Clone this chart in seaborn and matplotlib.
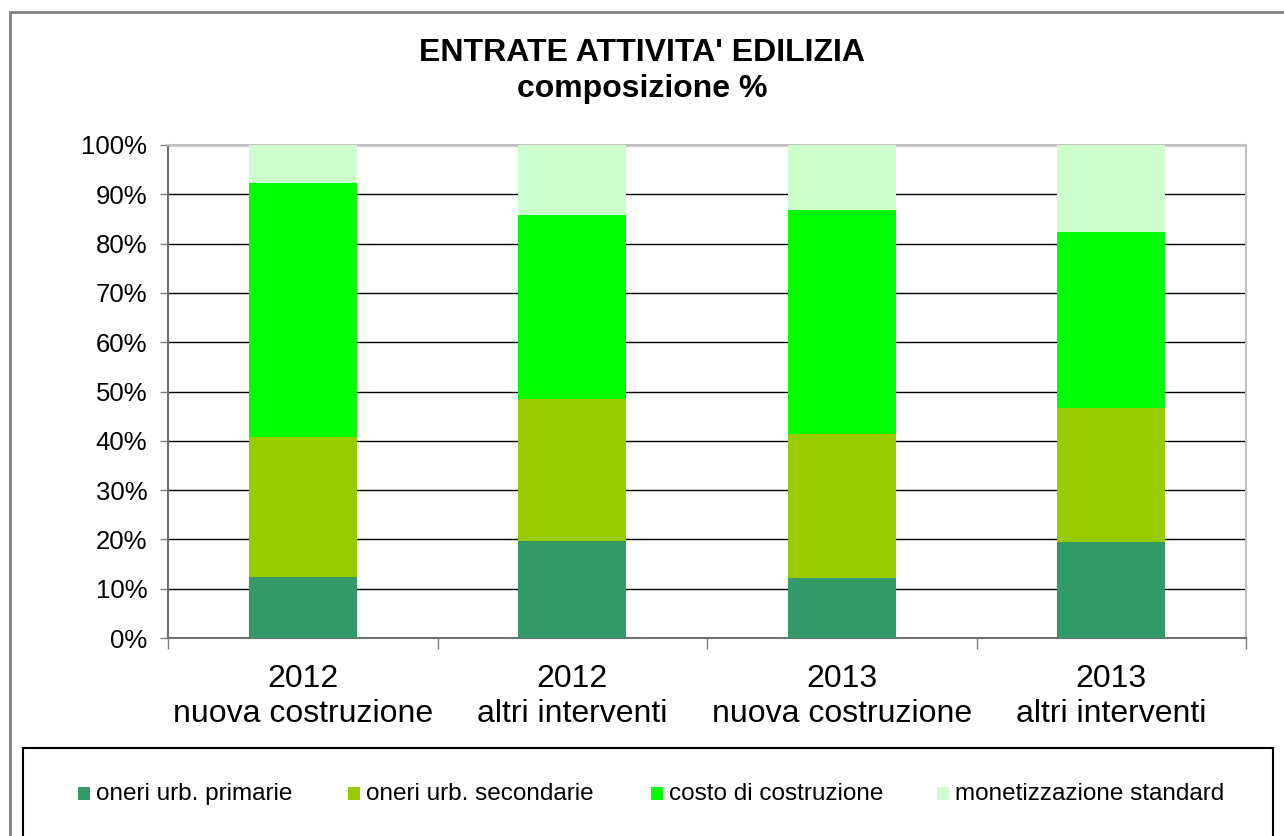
import numpy as np
import pandas as pd
import matplotlib
matplotlib.use("Agg")
import matplotlib.pyplot as plt
import seaborn as sns
from matplotlib.patches import Rectangle
from matplotlib.ticker import PercentFormatter

# data (% of total per column)
categories = ["2012\nnuova costruzione", "2012\naltri interventi",
              "2013\nnuova costruzione", "2013\naltri interventi"]
series = ["oneri urb. primarie", "oneri urb. secondarie",
          "costo di costruzione", "monetizzazione standard"]
primarie = [12.4, 19.6, 12.2, 19.4]
secondarie = [28.3, 28.8, 29.1, 27.3]
costo = [51.5, 37.4, 45.5, 35.7]
monetizzazione = [7.8, 14.2, 13.2, 17.6]
colors = ["#339966", "#99CC00", "#00FF00", "#CCFFCC"]

sns.set_theme(style="white")
plt.rcParams["font.family"] = ["Liberation Sans", "DejaVu Sans"]
plt.rcParams["text.color"] = "black"
plt.rcParams["xtick.color"] = "black"
plt.rcParams["ytick.color"] = "black"

W, H = 1284, 836

df = pd.DataFrame({"categoria": categories,
                   series[0]: primarie, series[1]: secondarie,
                   series[2]: costo, series[3]: monetizzazione})
# cumulative tops for stacking
cum = df[series].cumsum(axis=1)

fig = plt.figure(figsize=(W / 100, H / 100), dpi=100)
ax = fig.add_axes([168 / W, 1 - 638 / H, (1246 - 168) / W, (638 - 145) / H])

# draw tallest layer first so lower layers sit on top
for s, col in reversed(list(zip(series, colors))):
    sns.barplot(x=df["categoria"], y=cum[s], color=col, width=0.4,
                saturation=1, ax=ax, zorder=3, linewidth=0)

ax.set_ylim(0, 100)
ax.set_xlim(-0.5, 3.5)
ax.set_yticks(np.arange(0, 101, 10))
ax.yaxis.set_major_formatter(PercentFormatter(decimals=0))
ax.grid(axis="y", color="black", linewidth=1, zorder=0)
ax.set_axisbelow(True)
ax.set_xlabel("")
ax.set_ylabel("")

ax.set_xticks(np.arange(-0.5, 4, 1), minor=True)
ax.tick_params(axis="x", which="major", length=0, pad=19, labelsize=23,
               labelcolor="black")
ax.tick_params(axis="x", which="minor", length=8, width=1, color="#808080",
               direction="out", bottom=True)
ax.tick_params(axis="y", length=6, width=1, color="#808080", direction="out",
               left=True, pad=9, labelsize=18.5, labelcolor="black")

for side in ["left", "bottom"]:
    ax.spines[side].set_color("#707070")
    ax.spines[side].set_linewidth(1.5)
for side in ["top", "right"]:
    ax.spines[side].set_color("#c0c0c0")
    ax.spines[side].set_linewidth(1.5)

fig.text(0.5, 1 - 53 / H, "ENTRATE ATTIVITA' EDILIZIA", ha="center", va="center",
         fontsize=23, fontweight="bold", color="black")
fig.text(0.5, 1 - 89 / H, "composizione %", ha="center", va="center",
         fontsize=23, fontweight="bold", color="black")

# chart border and legend box
fig.patches.append(Rectangle((10 / W, -0.05), 1.2, 1 - 12 / H + 0.05,
                             transform=fig.transFigure, fill=False,
                             edgecolor="#808080", linewidth=2))
fig.patches.append(Rectangle((23 / W, -0.05), (1273 - 23) / W, 1 - 748 / H + 0.05,
                             transform=fig.transFigure, fill=False,
                             edgecolor="black", linewidth=1.5))

# legend entries, laid out in one row like the reference
marker_x = [78, 348, 651, 937]
for s, c, mx in zip(series, colors, marker_x):
    fig.patches.append(Rectangle((mx / W, 1 - 800 / H), 12 / W, 13 / H,
                                 transform=fig.transFigure, facecolor=c,
                                 edgecolor="none"))
    fig.text((mx + 18) / W, 1 - 800 / H, s, ha="left", va="baseline",
             fontsize=17.5, color="black")

fig.savefig("out.png", dpi=100)
